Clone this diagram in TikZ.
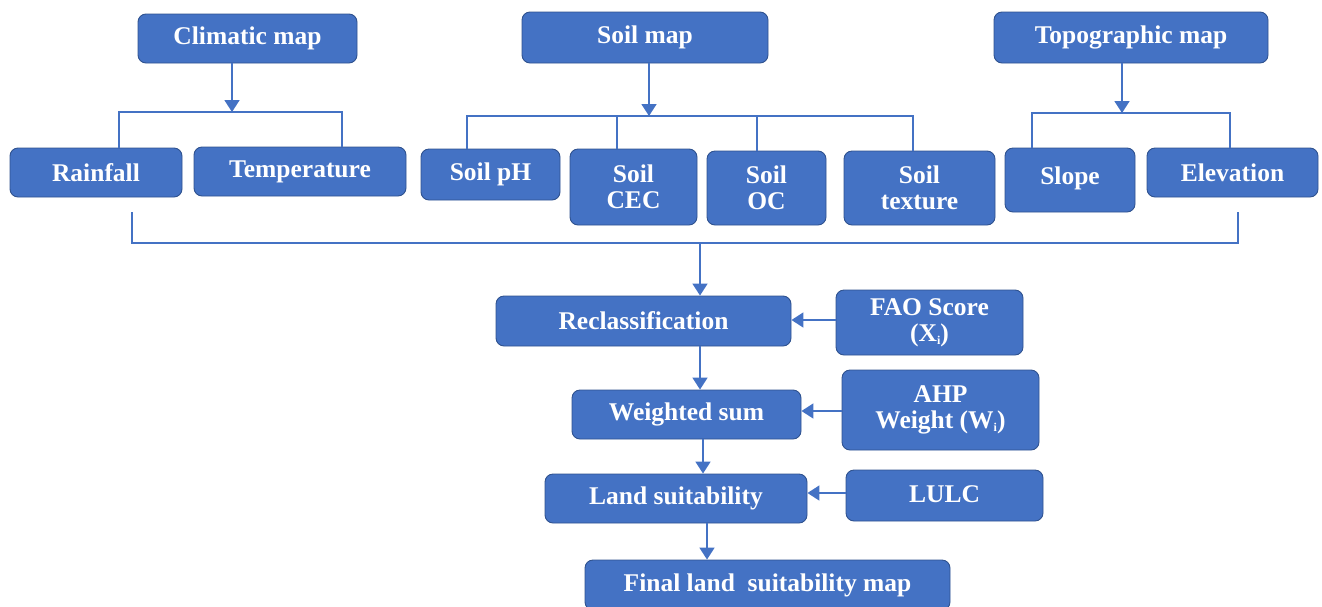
\documentclass[tikz,border=0pt]{standalone}
\usepackage{fontspec}
\setmainfont{Liberation Serif}
\usetikzlibrary{arrows.meta}
\definecolor{boxblue}{HTML}{4472C4}
\definecolor{boxedge}{HTML}{2F528F}
\definecolor{linkblue}{HTML}{4472C4}
\newcommand{\mysub}[1]{\raisebox{-3pt}{\fontsize{12}{12}\selectfont #1}}
\tikzset{
  box/.style={rectangle, rounded corners=8pt, fill=boxblue, draw=boxedge, line width=0.9pt,
    text=white, inner sep=0pt, align=center,
    font=\bfseries\fontsize{25.5}{26}\selectfont},
  link/.style={draw=linkblue, line width=1.8pt},
  arr/.style={link, -{Triangle[width=15pt,length=12pt]}}
}
\begin{document}
\begin{tikzpicture}[x=1pt,y=-1pt]
\useasboundingbox (0,0) rectangle (1322,606);
% top maps
\node[box, minimum width=219pt, minimum height=49pt] (clim) at (247.5,38.5) {Climatic map};
\node[box, minimum width=246pt, minimum height=51pt] (soil) at (645,37.5) {Soil map};
\node[box, minimum width=274pt, minimum height=51pt] (topo) at (1131,37.5) {Topographic map};
% factors
\node[box, minimum width=172pt, minimum height=49pt] (rain) at (96,172.5) {Rainfall};
\node[box, minimum width=212pt, minimum height=49pt] (temp) at (300,171.5) {Temperature};
\node[box, minimum width=139pt, minimum height=51pt] (ph) at (490.5,174.5) {\raisebox{3pt}{Soil pH}};
\node[box, minimum width=127pt, minimum height=76pt] (cec) at (633.5,187) {Soil\\CEC};
\node[box, minimum width=119pt, minimum height=74pt] (oc) at (766.5,188) {Soil\\OC};
\node[box, minimum width=151pt, minimum height=74pt] (tex) at (919.5,188) {Soil\\texture};
\node[box, minimum width=130pt, minimum height=64pt] (slope) at (1070,180) {\raisebox{8pt}{Slope}};
\node[box, minimum width=171pt, minimum height=49pt] (elev) at (1232.5,172.5) {Elevation};
% process
\node[box, minimum width=295pt, minimum height=50pt] (recl) at (643.5,321) {Reclassification};
\node[box, minimum width=187pt, minimum height=65pt] (fao) at (929.5,322.5) {FAO Score\\(X\mysub{i})};
\node[box, minimum width=229pt, minimum height=49pt] (ws) at (686.5,414.5) {Weighted sum};
\node[box, minimum width=197pt, minimum height=80pt] (ahp) at (940.5,410) {AHP\\Weight (W\mysub{i})};
\node[box, minimum width=262pt, minimum height=49pt] (land) at (676,498.5) {Land suitability};
\node[box, minimum width=197pt, minimum height=51pt] (lulc) at (944.5,495.5) {\raisebox{3pt}{LULC}};
\node[box, minimum width=365pt, minimum height=50pt] (final) at (767.5,585) {Final land\ \ suitability map};
% climatic bus
\coordinate (ca) at (232,112);
\coordinate (c1) at (119,112);
\coordinate (c2) at (342,112);
\draw[arr] (ca |- clim.south) -- (ca);
\draw[link] (c1 |- rain.north) -- (c1) -- (c2) -- (c2 |- temp.north);
% soil bus
\coordinate (sa) at (649,116);
\coordinate (s1) at (467,116);
\coordinate (s2) at (617,116);
\coordinate (s3) at (757,116);
\coordinate (s4) at (913,116);
\draw[arr] (sa |- soil.south) -- (sa);
\draw[link] (s1 |- ph.north) -- (s1) -- (s4) -- (s4 |- tex.north);
\draw[link] (s2) -- (s2 |- cec.north);
\draw[link] (s3) -- (s3 |- oc.north);
% topographic bus
\coordinate (ta) at (1122,113);
\coordinate (t1) at (1032,113);
\coordinate (t2) at (1230,113);
\draw[arr] (ta |- topo.south) -- (ta);
\draw[link] (t1 |- slope.north) -- (t1) -- (t2) -- (t2 |- elev.north);
% collecting bus
\coordinate (b1) at (132,212);
\coordinate (b2) at (1238,212);
\coordinate (bl) at (132,243);
\coordinate (br) at (1238,243);
\coordinate (bm) at (700,243);
\draw[link] (b1) -- (bl) -- (br) -- (b2);
\draw[arr] (bm) -- (bm |- recl.north);
% process arrows
\coordinate (p1) at (700,0);
\coordinate (p2) at (703,0);
\coordinate (p3) at (707,0);
\draw[arr] (p1 |- recl.south) -- (p1 |- ws.north);
\draw[arr] (p2 |- ws.south) -- (p2 |- land.north);
\draw[arr] (p3 |- land.south) -- (p3 |- final.north);
\coordinate (h1) at (0,320);
\coordinate (h2) at (0,411);
\coordinate (h3) at (0,493);
\draw[arr] (fao.west |- h1) -- (recl.east |- h1);
\draw[arr] (ahp.west |- h2) -- (ws.east |- h2);
\draw[arr] (lulc.west |- h3) -- (land.east |- h3);
\end{tikzpicture}
\end{document}
